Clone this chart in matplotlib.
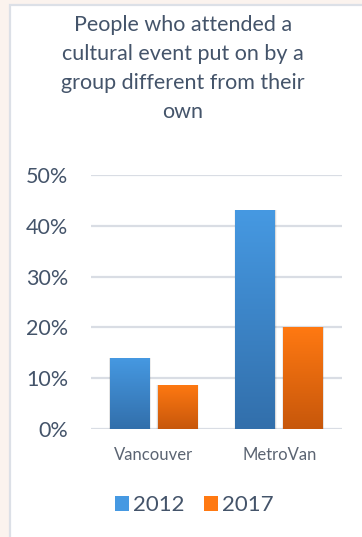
import numpy as np
import matplotlib.pyplot as plt
from matplotlib.patches import Rectangle
from matplotlib.colors import LinearSegmentedColormap

categories = ["Vancouver", "MetroVan"]
years = ["2012", "2017"]
values_2012 = [0.14, 0.431]
values_2017 = [0.087, 0.20]
yticks = [0, 0.1, 0.2, 0.3, 0.4, 0.5]

title = "People who attended a\ncultural event put on by a\ngroup different from their\nown"

text_col = "#44546a"
grid_col = "#d9dde4"
blue_top, blue_bot = "#4699e2", "#326fab"
orange_top, orange_bot = "#ff7912", "#c7570b"

plt.rcParams['font.family'] = ['Lato', 'DejaVu Sans']

fig = plt.figure(figsize=(3.62, 5.37), dpi=100)
fig.patch.set_facecolor("#fbf3ee")

# white card with a thin grey border
card = Rectangle((9.5 / 362, -0.01), 1.02, 1 - 4.5 / 537 + 0.01,
                 transform=fig.transFigure, facecolor="white",
                 edgecolor="#dce0e7", linewidth=1.6, zorder=-5)
fig.patches.append(card)

ax = fig.add_axes([91 / 362, 1 - 429 / 537, 251 / 362, 254 / 537])
ax.set_facecolor("none")

for s in ax.spines.values():
    s.set_visible(False)
ax.set_yticks(yticks)
ax.set_yticklabels([f"{int(round(t * 100))}%" for t in yticks])
ax.tick_params(axis="y", length=0, pad=16.5, labelsize=15.5, labelcolor=text_col)
ax.set_xticks(range(len(categories)))
ax.set_xticklabels(categories)
ax.tick_params(axis="x", length=0, pad=13, labelsize=12, labelcolor="#5b6472")
ax.yaxis.grid(True, color=grid_col, linewidth=1.6)
ax.set_axisbelow(True)

x = np.arange(len(categories))
width = 0.318
offset = 0.19


def gradient_bars(xs, vals, top, bot, label):
    bars = ax.bar(xs, vals, width, color=top, label=label, zorder=3)
    cmap = LinearSegmentedColormap.from_list(label, [bot, top])
    grad = np.linspace(0, 1, 256).reshape(-1, 1)
    for b in bars:
        x0, y0 = b.get_x(), b.get_y()
        w, h = b.get_width(), b.get_height()
        # soft drop shadow
        for k in range(1, 5):
            d = 0.004 * k
            sh = Rectangle((x0 - d * 0.6, y0 - d * 0.3), w + d * 1.2, h + d * 0.3,
                           facecolor="black", alpha=0.035, edgecolor="none", zorder=2)
            ax.add_patch(sh)
        im = ax.imshow(grad, extent=[x0, x0 + w, y0, y0 + h], origin="lower",
                       cmap=cmap, aspect="auto", zorder=4)
        im.set_clip_path(b)
    return bars


gradient_bars(x - offset, values_2012, blue_top, blue_bot, years[0])
gradient_bars(x + offset, values_2017, orange_top, orange_bot, years[1])
ax.set_xlim(-0.5, 1.5)
ax.set_ylim(0, 0.5)

fig.text(0.505, 1 - 15 / 537, title, ha="center", va="top", fontsize=15.5,
         color=text_col, linespacing=1.57)

leg = ax.legend(loc="center", bbox_to_anchor=(0.412, -0.3), ncol=2, frameon=False,
                fontsize=16, labelcolor=text_col, handlelength=0.62,
                handleheight=0.62, handletextpad=0.22, columnspacing=0.85)

fig.savefig("out.png", dpi=100, facecolor=fig.get_facecolor())
